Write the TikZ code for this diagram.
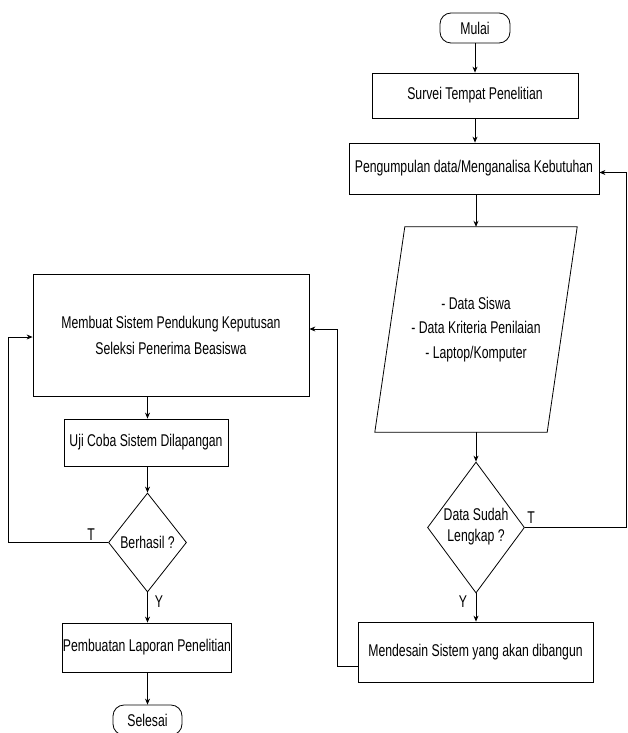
\documentclass[tikz,border=0pt]{standalone}
\usepackage{fontspec}
\setmainfont{Liberation Sans}[FakeStretch=0.72]
\usetikzlibrary{arrows.meta,shapes.geometric,calc}
\newcommand\myfs{\fontsize{17}{20}\selectfont}
\begin{document}
\begin{tikzpicture}[x=1pt,y=-1pt,
  box/.style={draw, rectangle, line width=0.8pt, inner sep=0pt, align=center, font=\myfs},
  term/.style={box, rounded corners=11pt},
  dec/.style={draw, diamond, line width=0.8pt, inner sep=0pt},
  txt/.style={inner sep=0pt, align=center, font=\myfs},
  arr/.style={-{Stealth[length=6pt,width=5pt]}, line width=0.8pt},
  ln/.style={line width=0.8pt}]
\useasboundingbox (0,0) rectangle (627,733);
% right column
\node[term, minimum width=70, minimum height=30] (mulai) at (475,28) {Mulai};
\node[box, minimum width=206, minimum height=45] (survei) at (475,95.5) {Survei Tempat Penelitian};
\node[box, minimum width=250, minimum height=51] (kumpul) at (474,168.5) {Pengumpulan data/Menganalisa Kebutuhan};
\node[inner sep=0pt, minimum width=172, minimum height=205, align=center,
      font=\fontsize{17}{24.5}\selectfont] (data) at (476,329.5)
      {- Data Siswa\\- Data Kriteria Penilaian\\- Laptop/Komputer};
\draw[ln] ($(data.north west)+(15,0)$) -- ($(data.north east)+(15,0)$)
  -- ($(data.south east)+(-15,0)$) -- ($(data.south west)+(-15,0)$) -- cycle;
\node[dec, minimum width=97, minimum height=131] (cek) at (476,527.5) {};
\node[txt, font=\fontsize{17}{21}\selectfont] (cekt) at (476,527) {Data Sudah\\Lengkap ?};
\node[box, minimum width=235, minimum height=60] (desain) at (475.5,652) {Mendesain Sistem yang akan dibangun};
% left column
\node[box, minimum width=276, minimum height=122, font=\fontsize{17}{26}\selectfont] (membuat) at (171,335)
  {Membuat Sistem Pendukung Keputusan\\Seleksi Penerima Beasiswa};
\node[box, minimum width=164, minimum height=47] (uji) at (146,442.5) {Uji Coba Sistem Dilapangan};
\node[dec, minimum width=78, minimum height=99] (berhasil) at (147.5,542.5) {};
\node[txt] (berhasilt) at (147.5,542.5) {Berhasil ?};
\node[box, minimum width=169, minimum height=49] (laporan) at (147,647.5) {Pembuatan Laporan Penelitian};
\node[term, minimum width=69, minimum height=30] (selesai) at (147.5,720) {Selesai};
% connectors right
\draw[arr] (mulai) -- (survei);
\draw[arr] (survei.south -| mulai) -- (kumpul.north -| mulai);
\draw[arr] (kumpul.south -| data) -- (data.north);
\draw[arr] (data.south) -- (cek.north);
\draw[arr] (cek.south) -- (desain.north -| cek);
\coordinate (r1) at (626,527.5);
\coordinate (r2) at (626,172.5);
\draw[arr] (cek.east) -- (r1) -- (r2) -- (kumpul.east |- r2);
\node[txt] (t1) at (531,518) {T};
\node[txt] (y1) at (463,602) {Y};
\draw[arr] ([yshift=16pt]desain.south west) -- ++(-20,0) |- ([yshift=6pt]membuat.east);
% connectors left
\draw[arr] (membuat.south -| berhasil) -- (uji.north -| berhasil);
\draw[arr] (uji.south -| berhasil) -- (berhasil.north);
\draw[arr] (berhasil.south) -- (laporan.north -| berhasil);
\draw[arr] (laporan.south -| selesai) -- (selesai.north);
\coordinate (l1) at (8,542.5);
\draw[arr] (berhasil.west) -- (l1) |- ([yshift=-2pt]membuat.west);
\node[txt] (t2) at (91,535) {T};
\node[txt] (y2) at (159,602) {Y};
\end{tikzpicture}
\end{document}
